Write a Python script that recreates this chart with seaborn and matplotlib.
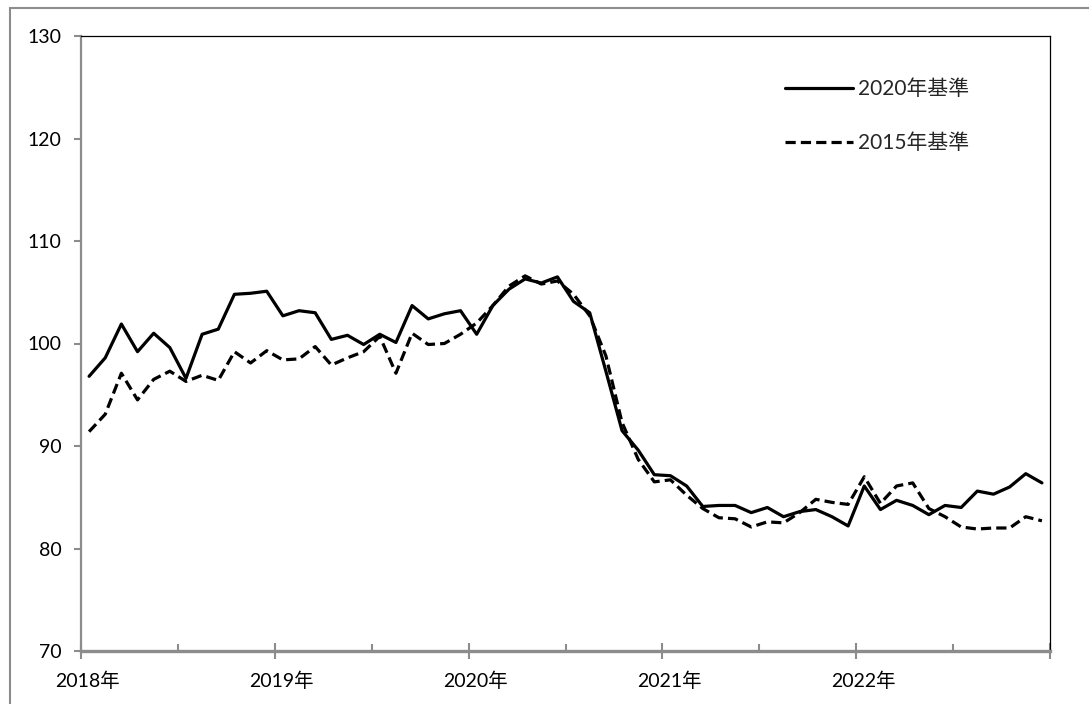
import numpy as np
import pandas as pd
import matplotlib
matplotlib.use("Agg")
import matplotlib.pyplot as plt
import matplotlib.transforms as mtransforms
from matplotlib.patches import Rectangle
import seaborn as sns

years = ["2018年", "2019年", "2020年", "2021年", "2022年"]
series_names = ["2020年基準", "2015年基準"]
base2020 = [96.8, 98.6, 101.9, 99.2, 101.0, 99.6, 96.6, 100.9, 101.4, 104.8, 104.9, 105.1,
            102.7, 103.2, 103.0, 100.4, 100.8, 99.9, 100.9, 100.1, 103.7, 102.4, 102.9, 103.2,
            100.9, 103.7, 105.3, 106.3, 105.9, 106.5, 104.1, 103.0, 97.3, 91.5, 89.6, 87.2,
            87.1, 86.1, 84.1, 84.2, 84.2, 83.5, 84.0, 83.1, 83.6, 83.8, 83.1, 82.2,
            86.1, 83.8, 84.7, 84.2, 83.3, 84.2, 84.0, 85.6, 85.3, 86.0, 87.3, 86.4]
base2015 = [91.4, 93.1, 97.1, 94.5, 96.5, 97.3, 96.3, 96.9, 96.4, 99.2, 98.1, 99.3,
            98.4, 98.5, 99.7, 97.9, 98.6, 99.2, 100.7, 97.1, 101.0, 99.9, 100.0, 100.9,
            102.0, 103.7, 105.6, 106.6, 105.8, 106.1, 104.8, 102.7, 98.8, 92.3, 88.7, 86.5,
            86.7, 85.2, 83.9, 83.0, 82.9, 82.1, 82.6, 82.5, 83.5, 84.8, 84.5, 84.3,
            87.0, 84.4, 86.1, 86.4, 83.9, 83.1, 82.1, 81.9, 82.0, 82.0, 83.1, 82.7]
yticks = [70, 80, 90, 100, 110, 120, 130]

n = len(base2020)
month_idx = np.arange(n) + 0.5
df = pd.DataFrame({
    "x": np.concatenate([month_idx, month_idx]),
    "value": base2020 + base2015,
    "series": [series_names[0]] * n + [series_names[1]] * n,
})

sns.set_theme(style="white")
plt.rcParams["font.family"] = ["Lato", "Noto Sans CJK JP", "DejaVu Sans"]

W, H = 1089, 704
fig = plt.figure(figsize=(W / 100, H / 100), dpi=100)
ax = fig.add_axes([81 / W, 1 - 651 / H, (1050 - 81) / W, (651 - 36) / H])

sns.lineplot(data=df, x="x", y="value", hue="series", style="series",
             palette={series_names[0]: "black", series_names[1]: "black"},
             dashes={series_names[0]: "", series_names[1]: (3.2, 1.6)},
             linewidth=2.3, ax=ax, legend=True)

ax.set_xlim(0, n)
ax.set_ylim(70, 130)
ax.set_yticks(yticks)
ax.set_yticklabels([str(v) for v in yticks])
ax.set_xticks(np.arange(0, n + 1, 12))
ax.set_xticklabels(years + [""])
ax.set_xticks(np.arange(6, n, 12), minor=True)
ax.set_xlabel("")
ax.set_ylabel("")

gray = "#8c8c8c"
for s in ["top", "right"]:
    ax.spines[s].set_color("black")
    ax.spines[s].set_linewidth(0.9)
ax.spines["left"].set_color(gray)
ax.spines["left"].set_linewidth(1.6)
ax.spines["bottom"].set_color(gray)
ax.spines["bottom"].set_linewidth(2.4)

ax.tick_params(axis="y", which="major", direction="out", length=5, width=1.5,
               color=gray, pad=9, labelsize=14, labelcolor="black", left=True)
ax.tick_params(axis="x", which="major", direction="inout", length=11, width=1.5,
               color=gray, pad=9, labelsize=14, labelcolor="black", bottom=True)
ax.tick_params(axis="x", which="minor", direction="in", length=5, width=1.5,
               color=gray, bottom=True)

offset = mtransforms.ScaledTranslation(7 / 100, 0, fig.dpi_scale_trans)
for lbl in ax.get_xticklabels():
    lbl.set_transform(lbl.get_transform() + offset)

handles, labels = ax.get_legend_handles_labels()
leg = ax.legend(handles, labels, loc="upper left",
                bbox_to_anchor=(785 / W, 1 - 79 / H), bbox_transform=fig.transFigure,
                frameon=False, fontsize=15, handlelength=3.25, handletextpad=0.25,
                labelspacing=1.65, borderpad=0, borderaxespad=0)
for line in leg.get_lines():
    line.set_linewidth(2.3)

fig.patches.append(Rectangle((10 / W, -0.1), 1.2, 1 - 8 / H + 0.1, transform=fig.transFigure,
                             fill=False, edgecolor=gray, linewidth=1.5, zorder=0))

fig.savefig("out.png", dpi=100, facecolor="white")
